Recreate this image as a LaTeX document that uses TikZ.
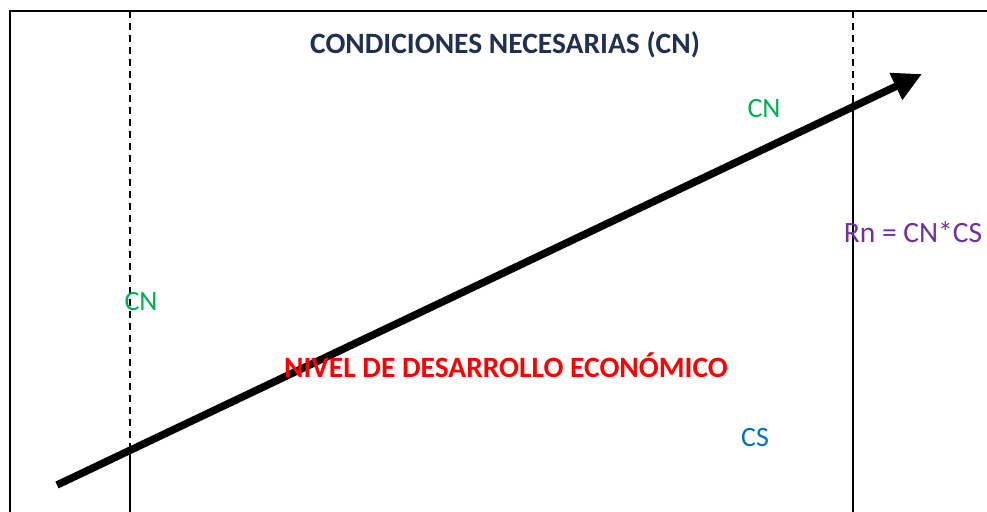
\documentclass[tikz,border=0pt]{standalone}
\usepackage{fontspec}
\setmainfont{Carlito}
\usetikzlibrary{arrows.meta}
\definecolor{navy}{HTML}{1F3050}
\definecolor{cngreen}{HTML}{00B050}
\definecolor{rnpurple}{HTML}{7030A0}
\definecolor{csblue}{HTML}{0070C0}
\definecolor{red1}{HTML}{FF0000}
\tikzset{
  lbl/.style={anchor=base, inner sep=0pt, font=\fontsize{28}{32}\selectfont},
  lblr/.style={anchor=base, inner sep=0pt, font=\fontsize{29.5}{33}\selectfont},
  lblb/.style={anchor=base, inner sep=0pt, font=\fontsize{29.5}{33}\selectfont\bfseries},
  frame/.style={line width=2.5pt},
  guide/.style={line width=1.5pt},
  guided/.style={line width=1.5pt, dash pattern=on 7pt off 5pt},
  bigarrow/.style={line width=7.5pt, -{Triangle[length=29pt,width=28pt]}}
}
\begin{document}
\begin{tikzpicture}[x=1pt,y=-1pt]
\useasboundingbox (0,0) rectangle (987,511);
\clip (0,0) rectangle (987,511);
% frame
\coordinate (ftl) at (10,11);
\coordinate (ftr) at (995,11);
\coordinate (fbl) at (10,520);
\draw[frame] (ftr) -- (ftl) -- (fbl);
% guide lines
\coordinate (l1) at (130,11);
\coordinate (l2) at (130,446);
\coordinate (l3) at (130,520);
\coordinate (r1) at (853,11);
\coordinate (r2) at (853,102);
\coordinate (r3) at (853,520);
\draw[guided] (l1) -- (l2);
\draw[guide] (l2) -- (l3);
\draw[guided] (r1) -- (r2);
\draw[guide] (r2) -- (r3);
% arrow
\coordinate (as) at (57,485);
\coordinate (ae) at (922,74);
\draw[bigarrow] (as) -- (ae);
% texts
\node[lblb, text=navy] (title) at (505,53) {CONDICIONES NECESARIAS (CN)};
\node[lbl, text=cngreen] (cn1) at (764,117) {CN};
\node[lbl, text=cngreen] (cn2) at (141,310) {CN};
\node[lblr, text=rnpurple] (rn) at (913,242) {Rn = CN*CS};
\node[lblb, text=red1] (nivel) at (506,377) {NIVEL DE DESARROLLO ECONÓMICO};
\node[lbl, text=csblue] (cs) at (755,446) {CS};
\end{tikzpicture}
\end{document}
